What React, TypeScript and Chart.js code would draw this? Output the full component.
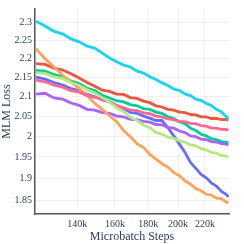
import { useEffect, useRef } from "react";
import Chart from "chart.js/auto";

const steps = [121000, 125000, 129000, 133000, 137000, 141000, 145000, 149000, 153000, 157000, 161000, 165000, 169000, 173000, 177000, 181000, 185000, 189000, 193000, 197000, 201000, 205000, 209000, 213000, 217000, 221000, 225000, 229000, 233000, 237000, 239000];

const blueLoss = [2.150, 2.145, 2.136, 2.129, 2.120, 2.115, 2.105, 2.099, 2.091, 2.086, 2.075, 2.069, 2.059, 2.057, 2.050, 2.045, 2.039, 2.039, 2.021, 2.001, 1.981, 1.961, 1.937, 1.923, 1.909, 1.901, 1.889, 1.882, 1.870, 1.863, 1.857];
const redLoss = [2.186, 2.184, 2.174, 2.169, 2.159, 2.148, 2.136, 2.126, 2.116, 2.113, 2.106, 2.105, 2.097, 2.095, 2.088, 2.084, 2.076, 2.073, 2.067, 2.065, 2.060, 2.059, 2.054, 2.053, 2.048, 2.048, 2.044, 2.044, 2.041, 2.042, 2.040];
const greenLoss = [2.168, 2.166, 2.157, 2.151, 2.140, 2.133, 2.121, 2.115, 2.103, 2.096, 2.089, 2.086, 2.079, 2.076, 2.069, 2.067, 2.060, 2.057, 2.048, 2.044, 2.036, 2.031, 2.020, 2.014, 2.005, 2.001, 1.994, 1.992, 1.987, 1.986, 1.984];
const purpleLoss = [2.106, 2.108, 2.096, 2.093, 2.083, 2.077, 2.067, 2.065, 2.059, 2.057, 2.050, 2.048, 2.042, 2.041, 2.037, 2.035, 2.029, 2.028, 2.022, 2.020, 2.013, 2.009, 2.001, 1.999, 1.993, 1.992, 1.987, 1.986, 1.982, 1.981, 1.979];
const orangeLoss = [2.226, 2.199, 2.177, 2.155, 2.138, 2.120, 2.103, 2.082, 2.067, 2.051, 2.036, 2.014, 1.999, 1.982, 1.973, 1.956, 1.945, 1.934, 1.926, 1.913, 1.906, 1.894, 1.886, 1.876, 1.871, 1.863, 1.861, 1.854, 1.853, 1.846, 1.843];
const cyanLoss = [2.302, 2.289, 2.274, 2.267, 2.253, 2.245, 2.233, 2.228, 2.214, 2.201, 2.191, 2.182, 2.177, 2.166, 2.161, 2.151, 2.144, 2.135, 2.128, 2.119, 2.115, 2.106, 2.102, 2.093, 2.090, 2.082, 2.077, 2.067, 2.061, 2.049, 2.043];
const pinkLoss = [2.142, 2.138, 2.129, 2.124, 2.115, 2.111, 2.102, 2.098, 2.092, 2.087, 2.077, 2.071, 2.065, 2.064, 2.058, 2.056, 2.050, 2.048, 2.043, 2.041, 2.036, 2.036, 2.032, 2.031, 2.026, 2.025, 2.020, 2.020, 2.017, 2.017, 2.015];
const lightGreenLoss = [2.162, 2.160, 2.151, 2.146, 2.136, 2.129, 2.117, 2.109, 2.097, 2.085, 2.071, 2.061, 2.047, 2.039, 2.028, 2.021, 2.009, 2.005, 1.998, 1.995, 1.989, 1.986, 1.979, 1.977, 1.970, 1.967, 1.961, 1.959, 1.954, 1.952, 1.950];

const seriesValues = [blueLoss, redLoss, greenLoss, purpleLoss, orangeLoss, cyanLoss, pinkLoss, lightGreenLoss];
const seriesColors = ["#636efa", "#EF553B", "#00cc96", "#ab63fa", "#FFA15A", "#19d3f3", "#FF6692", "#B6E880"];

const xTicks = [140000, 160000, 180000, 200000, 220000];
const xTickLabels = ["140k", "160k", "180k", "200k", "220k"];
const yTicks = [1.85, 1.9, 1.95, 2, 2.05, 2.1, 2.15, 2.2, 2.25, 2.3];
const yTickLabels = ["1.85", "1.9", "1.95", "2", "2.05", "2.1", "2.15", "2.2", "2.25", "2.3"];

const FONT = "'Liberation Serif', 'Times New Roman', serif";
const TEXT = "#2a3f5f";
const GRID = "rgba(0,0,0,0.06)";

export default function App() {
  const ref = useRef<HTMLCanvasElement | null>(null);
  useEffect(() => {
    if (!ref.current) return;
    const n = seriesValues.length;
    const chart = new Chart(ref.current, {
      type: "line",
      data: {
        datasets: seriesValues.map((vals, i) => ({
          data: vals.map((v, j) => ({ x: steps[j], y: v })),
          borderColor: seriesColors[i],
          backgroundColor: seriesColors[i],
          borderWidth: 2.8,
          pointRadius: 0,
          tension: 0,
          fill: false,
          order: n - i,
        })),
      },
      options: {
        responsive: false,
        animation: false,
        events: [],
        layout: { padding: { top: 9, right: 15, left: 0, bottom: 0 } },
        plugins: { legend: { display: false }, tooltip: { enabled: false } },
        scales: {
          x: {
            type: "logarithmic",
            min: 120600,
            max: 239500,
            afterBuildTicks: (s: any) => {
              s.ticks = xTicks.map((v) => ({ value: v }));
            },
            afterFit: (s: any) => {
              s.height = 30;
            },
            ticks: {
              autoSkip: false,
              maxRotation: 0,
              padding: 4,
              color: TEXT,
              font: { family: FONT, size: 10 },
              callback: (v: any) => {
                const k = xTicks.indexOf(Number(v));
                return k >= 0 ? xTickLabels[k] : "";
              },
            },
            grid: { color: GRID, drawTicks: false },
            border: { display: true, color: "#555", width: 1.5 },
            title: {
              display: true,
              text: "Microbatch Steps",
              color: TEXT,
              font: { family: FONT, size: 12 },
              padding: 0,
            },
          },
          y: {
            type: "logarithmic",
            min: 1.8186,
            max: 2.337,
            afterBuildTicks: (s: any) => {
              s.ticks = yTicks.map((v) => ({ value: v }));
            },
            afterFit: (s: any) => {
              s.width = 35;
            },
            ticks: {
              autoSkip: false,
              padding: 3,
              color: TEXT,
              font: { family: FONT, size: 10 },
              callback: (v: any) => {
                const k = yTicks.indexOf(Number(v));
                return k >= 0 ? yTickLabels[k] : "";
              },
            },
            grid: { color: GRID, drawTicks: false },
            border: { display: true, color: "#555", width: 1.5 },
            title: {
              display: true,
              text: "MLM Loss",
              color: TEXT,
              font: { family: FONT, size: 12 },
              padding: 0,
            },
          },
        },
      },
    } as any);
    return () => chart.destroy();
  }, []);
  return (
    <div style={{ position: "fixed", left: 0, top: 0, width: 244, height: 244, background: "#fff" }}>
      <canvas ref={ref} width={244} height={244} />
    </div>
  );
}
